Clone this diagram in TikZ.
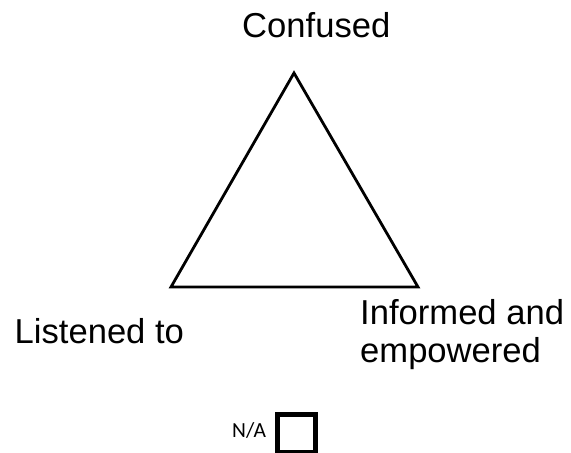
\documentclass[tikz,border=0pt]{standalone}
\usepackage{fontspec}
\setmainfont{Liberation Sans}
\newfontfamily\nafont{Carlito}
\begin{document}
\begin{tikzpicture}[x=1pt,y=-1pt,
  lbl/.style={inner sep=0pt,anchor=base west,font=\fontsize{34.6}{38}\selectfont,align=left},
  nalbl/.style={inner sep=0pt,anchor=base west,font=\nafont\fontsize{21.5}{24}\selectfont},
  tri/.style={draw=black,line width=2.8pt,line join=miter},
  nabox/.style={draw=black,line width=5pt}]
\useasboundingbox (0,0) rectangle (571,453);
\coordinate (top) at (294,73);
\coordinate (bl) at (171,287);
\coordinate (br) at (418,287);
\draw[tri] (top) -- (bl) -- (br) -- cycle;
\node[lbl] (confused) at (242,37) {Confused};
\node[lbl] (listened) at (14.5,343) {Listened to};
\node[lbl,anchor=north west] (informed) at (360,299) {Informed and\\empowered};
\node[nalbl] (na) at (232,437) {N/A};
\node[nabox,minimum width=38pt,minimum height=38pt,inner sep=0pt] (box) at (296.5,433) {};
\end{tikzpicture}
\end{document}
